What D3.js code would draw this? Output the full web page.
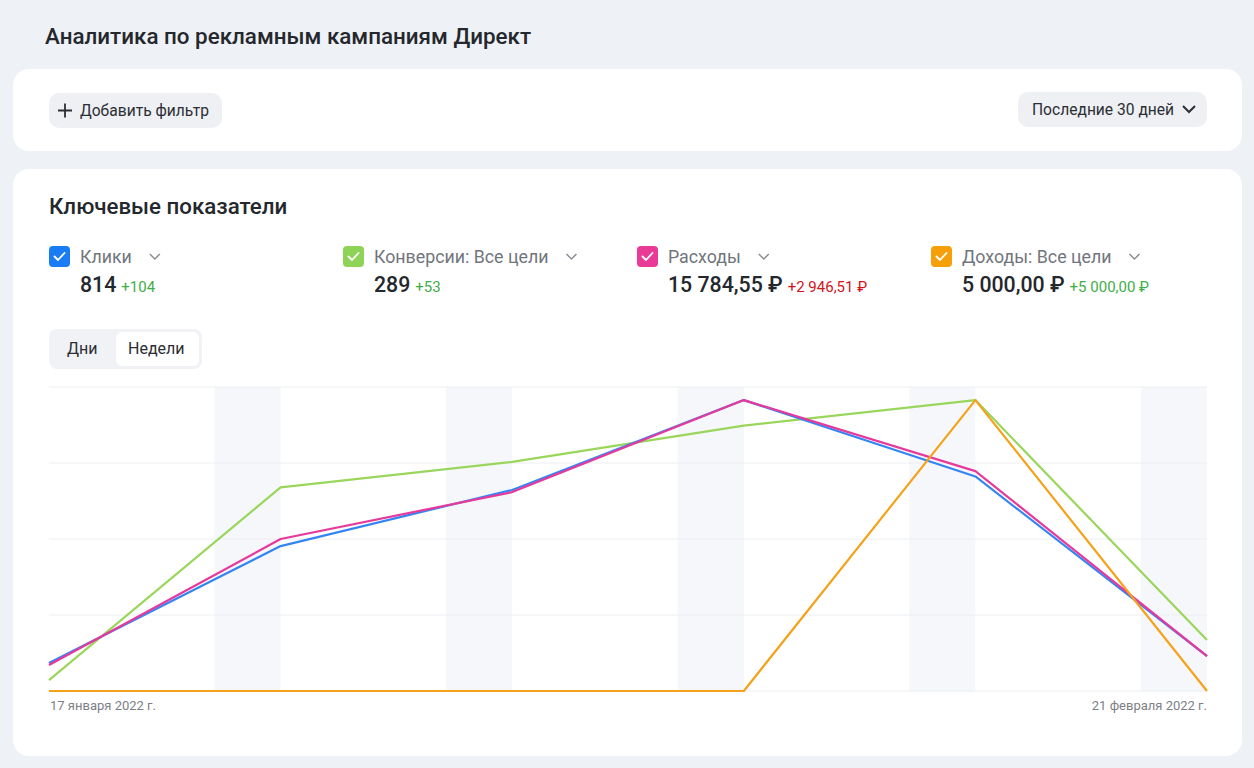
<!DOCTYPE html>
<html>
<head>
<meta charset="utf-8">
<script src="https://cdn.jsdelivr.net/npm/d3@7"></script>
<style>
  html, body { margin: 0; padding: 0; background: #eef1f6; }
  svg { display: block; font-family: Roboto, "Noto Sans", sans-serif; }
</style>
</head>
<body>
<svg id="page" width="1254" height="768"></svg>
<script>
// weekly points (Mondays)
var weeks = ["2022-01-17", "2022-01-24", "2022-01-31", "2022-02-07", "2022-02-14", "2022-02-21"];
var clicks = [25, 129, 179, 259, 191, 31];
var conversions = [3, 56, 63, 73, 80, 14];
var expenses = [445.20, 2599.90, 3403.10, 4976.40, 3762.05, 597.90];
var revenue = [0, 0, 0, 0, 5000, 0];

var metricNames = ["Клики", "Конверсии: Все цели", "Расходы", "Доходы: Все цели"];
var metricTotals = ["814", "289", "15 784,55 ₽", "5 000,00 ₽"];
var metricDeltas = ["+104", "+53", "+2 946,51 ₽", "+5 000,00 ₽"];
var deltaColors = ["#3fae49", "#3fae49", "#d4131b", "#3fae49"];
var metricColors = ["#1a7cf5", "#8fd356", "#ea3a98", "#f59f0a"];
var lineColors = ["#3485f4", "#9ad65c", "#e6399b", "#f5a21b"];

var axisLabels = ["17 января 2022 г.", "21 февраля 2022 г."];
var tabs = ["Дни", "Недели"];

var parse = d3.timeParse("%Y-%m-%d");
var dates = weeks.map(parse);

var svg = d3.select("#page");

// page title
svg.append("text")
    .attr("x", 45).attr("y", 44)
    .attr("font-size", 22.4).attr("font-weight", 500).attr("fill", "#24272c")
    .text("Аналитика по рекламным кампаниям Директ");

// filter card
svg.append("rect").attr("x", 13).attr("y", 69).attr("width", 1229).attr("height", 82)
    .attr("rx", 16).attr("fill", "#fff");
svg.append("rect").attr("x", 49).attr("y", 93).attr("width", 173).attr("height", 35)
    .attr("rx", 10).attr("fill", "#eef0f4");
svg.append("path").attr("d", "M58,110.5h14M65,103.5v14")
    .attr("stroke", "#2b2e33").attr("stroke-width", 1.8);
svg.append("text").attr("x", 80).attr("y", 115.5).attr("font-size", 15.6).attr("fill", "#2b2e33")
    .text("Добавить фильтр");

svg.append("rect").attr("x", 1018).attr("y", 92).attr("width", 189).attr("height", 35)
    .attr("rx", 10).attr("fill", "#eef0f4");
svg.append("text").attr("x", 1032).attr("y", 114.5).attr("font-size", 15.6).attr("fill", "#2b2e33")
    .text("Последние 30 дней");
svg.append("path").attr("d", "M1183,106l6,6l6,-6")
    .attr("fill", "none").attr("stroke", "#2b2e33").attr("stroke-width", 2);

// main card
svg.append("rect").attr("x", 13).attr("y", 169).attr("width", 1229).attr("height", 587)
    .attr("rx", 16).attr("fill", "#fff");
svg.append("text").attr("x", 49).attr("y", 214)
    .attr("font-size", 22.3).attr("font-weight", 500).attr("fill", "#24272c")
    .text("Ключевые показатели");

// metric legend
var legend = svg.selectAll("g.metric").data(metricNames).join("g")
    .attr("class", "metric")
    .attr("transform", function(d, i) { return "translate(" + (49 + i * 294) + ",246)"; });
legend.append("rect").attr("width", 21).attr("height", 21).attr("rx", 4)
    .attr("fill", function(d, i) { return metricColors[i]; });
legend.append("path").attr("d", "M5.5,10.5l3.5,3.5l6.5,-7")
    .attr("fill", "none").attr("stroke", "#fff").attr("stroke-width", 1.8)
    .attr("stroke-linecap", "round").attr("stroke-linejoin", "round");
var names = legend.append("text").attr("x", 31).attr("y", 16.5)
    .attr("font-size", 17.8).attr("fill", "#71757c")
    .text(function(d) { return d; });
names.each(function(d, i) {
    var w = this.getComputedTextLength();
    d3.select(this.parentNode).append("path")
        .attr("d", "M" + (31 + w + 18) + ",8l5,5l5,-5")
        .attr("fill", "none").attr("stroke", "#8a8e95").attr("stroke-width", 1.5);
});
var totals = legend.append("text").attr("x", 31).attr("y", 46)
    .attr("font-size", 21.3).attr("font-weight", 500).attr("fill", "#24272c")
    .text(function(d, i) { return metricTotals[i]; });
totals.each(function(d, i) {
    var w = this.getComputedTextLength();
    d3.select(this.parentNode).append("text")
        .attr("x", 31 + w + 5).attr("y", 46)
        .attr("font-size", 15).attr("fill", deltaColors[i])
        .text(metricDeltas[i]);
});

// tabs
svg.append("rect").attr("x", 49).attr("y", 329).attr("width", 153).attr("height", 40)
    .attr("rx", 8).attr("fill", "#f0f2f6");
svg.append("rect").attr("x", 116).attr("y", 332).attr("width", 83).attr("height", 34)
    .attr("rx", 6).attr("fill", "#fff");
svg.selectAll("text.tab").data(tabs).join("text")
    .attr("class", "tab")
    .attr("x", function(d, i) { return i === 0 ? 67 : 128; })
    .attr("y", 354)
    .attr("font-size", 16).attr("fill", "#2b2e33")
    .text(function(d) { return d; });

// chart
var x = d3.scaleTime().domain([dates[0], dates[dates.length - 1]]).range([49, 1207]);
var yTop = 387, yBottom = 691;
var grid = d3.scaleLinear().domain([0, 4]).range([yBottom, yTop]);

var chart = svg.append("g");

// weekend bands (Saturday to Monday)
var saturdays = d3.timeSaturday.range(dates[0], dates[dates.length - 1]);
chart.selectAll("rect.weekend").data(saturdays).join("rect")
    .attr("class", "weekend")
    .attr("x", function(d) { return x(d); })
    .attr("y", yTop)
    .attr("width", function(d) { return x(d3.timeDay.offset(d, 2)) - x(d); })
    .attr("height", yBottom - yTop)
    .attr("fill", "#f5f7fa");

chart.selectAll("line.grid").data(d3.range(5)).join("line")
    .attr("class", "grid")
    .attr("x1", 49).attr("x2", 1207)
    .attr("y1", function(d) { return grid(d); })
    .attr("y2", function(d) { return grid(d); })
    .attr("stroke", "#eceef2").attr("stroke-width", 1);

// each series has its own scale, peak reaching near the top
var series = [conversions, clicks, expenses, revenue];
var seriesColors = [lineColors[1], lineColors[0], lineColors[2], lineColors[3]];
series.forEach(function(vals, k) {
    var y = d3.scaleLinear().domain([0, d3.max(vals) * 1.045]).range([yBottom, yTop]);
    var line = d3.line()
        .x(function(d, i) { return x(dates[i]); })
        .y(function(d) { return y(d); });
    chart.append("path")
        .datum(vals)
        .attr("d", line)
        .attr("fill", "none")
        .attr("stroke", seriesColors[k])
        .attr("stroke-width", 2.2)
        .attr("stroke-linejoin", "round");
});

chart.append("text").attr("x", 50).attr("y", 710)
    .attr("font-size", 13).attr("fill", "#7c8087")
    .text(axisLabels[0]);
chart.append("text").attr("x", 1207).attr("y", 710).attr("text-anchor", "end")
    .attr("font-size", 13).attr("fill", "#7c8087")
    .text(axisLabels[1]);
</script>
</body>
</html>
